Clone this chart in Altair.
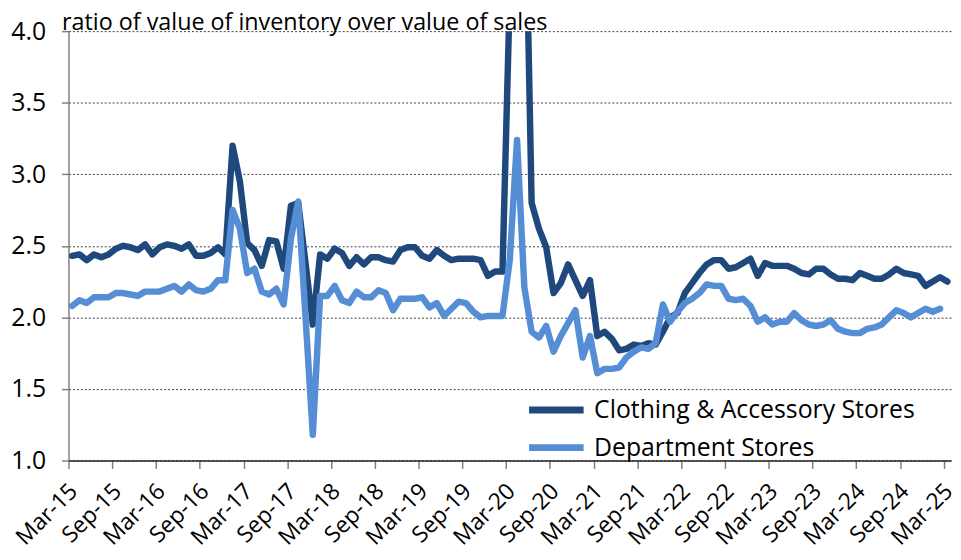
import json
import altair as alt
import pandas as pd

# ---- data ----
series_names = ["Clothing & Accessory Stores", "Department Stores"]

clothing = [
    2.43, 2.44, 2.40, 2.44, 2.42, 2.44, 2.48, 2.50, 2.49, 2.47, 2.51, 2.44, 2.49, 2.51, 2.50,
    2.48, 2.51, 2.43, 2.43, 2.45, 2.49, 2.44, 3.20, 2.95, 2.52, 2.47, 2.36, 2.54, 2.53, 2.34,
    2.78, 2.80, 2.38, 1.95, 2.44, 2.41, 2.48, 2.45, 2.36, 2.42, 2.37, 2.42, 2.42, 2.40, 2.39,
    2.47, 2.49, 2.49, 2.43, 2.41, 2.47, 2.43, 2.40, 2.41, 2.41, 2.41, 2.40, 2.29, 2.32, 2.32,
    4.25, 12.0, 5.40, 2.80, 2.62, 2.49, 2.17, 2.24, 2.37, 2.26, 2.15, 2.26, 1.87, 1.90, 1.85,
    1.77, 1.78, 1.81, 1.80, 1.82, 1.81, 1.90, 2.00, 2.03, 2.17, 2.24, 2.31, 2.37, 2.40, 2.40,
    2.34, 2.35, 2.38, 2.41, 2.29, 2.38, 2.36, 2.36, 2.36, 2.34, 2.31, 2.30, 2.34, 2.34, 2.30,
    2.27, 2.27, 2.26, 2.31, 2.29, 2.27, 2.27, 2.30, 2.34, 2.31, 2.30, 2.29, 2.22, 2.25, 2.28,
    2.25,
]

department = [
    2.08, 2.12, 2.10, 2.14, 2.14, 2.14, 2.17, 2.17, 2.16, 2.15, 2.18, 2.18, 2.18, 2.20, 2.22,
    2.18, 2.23, 2.19, 2.18, 2.20, 2.26, 2.26, 2.75, 2.62, 2.31, 2.34, 2.18, 2.16, 2.20, 2.09,
    2.55, 2.81, 2.00, 1.18, 2.15, 2.15, 2.22, 2.12, 2.10, 2.18, 2.14, 2.14, 2.19, 2.17, 2.05,
    2.13, 2.13, 2.13, 2.14, 2.07, 2.10, 2.01, 2.06, 2.11, 2.10, 2.04, 2.00, 2.01, 2.01, 2.01,
    2.40, 3.24, 2.21, 1.90, 1.86, 1.94, 1.76, 1.87, 1.96, 2.05, 1.72, 1.87, 1.61, 1.64, 1.64,
    1.65, 1.72, 1.76, 1.79, 1.78, 1.82, 2.09, 1.97, 2.04, 2.10, 2.13, 2.17, 2.23, 2.22, 2.22,
    2.13, 2.12, 2.13, 2.08, 1.97, 2.00, 1.95, 1.97, 1.97, 2.03, 1.98, 1.95, 1.94, 1.95, 1.98,
    1.92, 1.90, 1.89, 1.89, 1.92, 1.93, 1.95, 2.00, 2.05, 2.03, 2.00, 2.03, 2.06, 2.04, 2.06,
]

tick_labels = [
    "Mar-15", "Sep-15", "Mar-16", "Sep-16", "Mar-17", "Sep-17", "Mar-18", "Sep-18",
    "Mar-19", "Sep-19", "Mar-20", "Sep-20", "Mar-21", "Sep-21", "Mar-22", "Sep-22",
    "Mar-23", "Sep-23", "Mar-24", "Sep-24", "Mar-25",
]

colors = ["#1F497D", "#558ED5"]

# ---- table ----
rows = []
for i, v in enumerate(clothing):
    rows.append({"pos": i + 0.5, "value": v, "series": series_names[0]})
for i, v in enumerate(department):
    rows.append({"pos": i + 0.5, "value": v, "series": series_names[1]})
df = pd.DataFrame(rows)

FONT = "Open Sans"

x_enc = alt.X(
    "pos:Q",
    scale=alt.Scale(domain=[0, 121], nice=False, zero=False),
    axis=alt.Axis(
        values=list(range(0, 121, 6)),
        labelExpr=json.dumps(tick_labels) + "[round(datum.value / 6)]",
        labelAngle=-45,
        labelAlign="right",
        labelBaseline="middle",
        labelFontSize=23,
        labelPadding=19,
        labelOffset=5,
        labelColor="#000000",
        tickSize=8,
        tickColor="#808080",
        tickWidth=1.5,
        domainColor="#262626",
        domainWidth=1.5,
        grid=False,
        title=None,
        labelOverlap=False,
    ),
)

y_enc = alt.Y(
    "value:Q",
    scale=alt.Scale(domain=[1, 4], nice=False, zero=False),
    axis=alt.Axis(
        values=[1.0, 1.5, 2.0, 2.5, 3.0, 3.5, 4.0],
        format=".1f",
        labelFontSize=25,
        labelColor="#000000",
        labelPadding=16,
        tickSize=7,
        tickColor="#808080",
        tickWidth=1.5,
        domainColor="#808080",
        domainWidth=1.5,
        grid=True,
        gridColor="#404040",
        gridDash=[2, 2],
        gridWidth=1,
        title="ratio of value of inventory over value of sales",
        titleAngle=0,
        titleAlign="left",
        titleBaseline="alphabetic",
        titleX=-7,
        titleY=-1.5,
        titleFontSize=23.5,
        titleFontWeight="normal",
        titleColor="#000000",
    ),
)

color_enc = alt.Color(
    "series:N",
    scale=alt.Scale(domain=series_names, range=colors),
    legend=alt.Legend(
        title=None,
        orient="none",
        legendX=461,
        legendY=370,
        symbolType="stroke",
        symbolSize=3025,
        symbolStrokeWidth=7,
        clipHeight=24,
        rowPadding=13,
        labelFontSize=25,
        labelOffset=7,
        labelLimit=0,
        labelColor="#000000",
        padding=0,
    ),
)

base = alt.Chart(df).mark_line(
    strokeWidth=6.5, strokeCap="round", strokeJoin="round", clip=True
).encode(x=x_enc, y=y_enc, color=color_enc)

dark = base.transform_filter(alt.datum.series == series_names[0])
light = base.transform_filter(alt.datum.series == series_names[1])

chart = (
    alt.layer(dark, light)
    .properties(
        width=890,
        height=433,
        autosize=alt.AutoSizeParams(type="none"),
        padding={"left": 61, "top": 21, "right": 2, "bottom": 96},
        background="white",
    )
    .configure(font=FONT)
    .configure_view(strokeWidth=0)
)

chart.save("out.html", embed_options={"renderer": "svg", "actions": False})
